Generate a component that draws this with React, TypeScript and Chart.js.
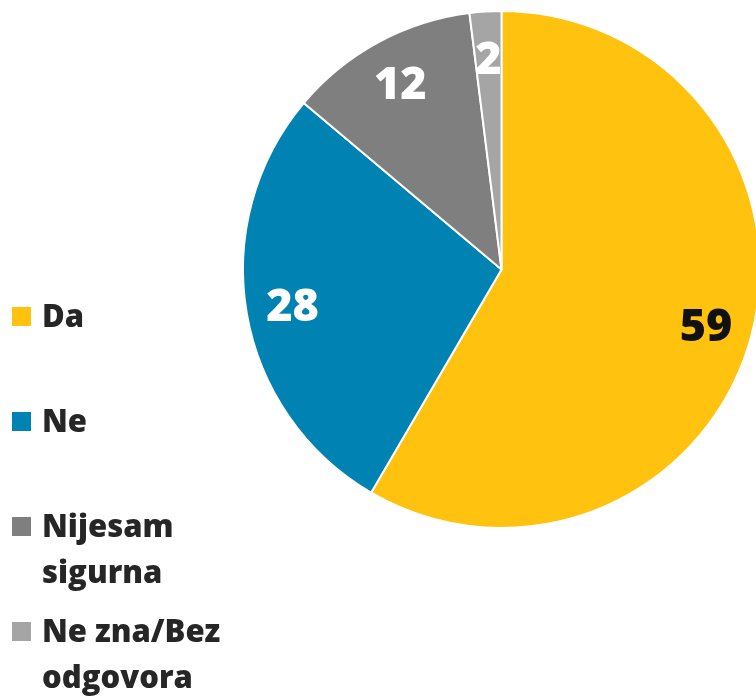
import React, { useEffect, useRef } from "react";
import { Chart, registerables } from "chart.js";

Chart.register(...registerables);

const categories = ["Da", "Ne", "Nijesam sigurna", "Ne zna/Bez odgovora"];
const values = [59, 28, 12, 2];
const colors = ["#FFC20E", "#0083B3", "#7F7F7F", "#A5A5A5"];
const labelColors = ["#111111", "#FFFFFF", "#FFFFFF", "#FFFFFF"];

const FONT = "'Open Sans', 'Noto Sans', sans-serif";

const sliceLabels = {
  id: "sliceLabels",
  afterDatasetsDraw(chart: any) {
    const { ctx } = chart;
    const meta = chart.getDatasetMeta(0);
    ctx.save();
    ctx.font = `800 45px ${FONT}`;
    ctx.textAlign = "center";
    ctx.textBaseline = "middle";
    meta.data.forEach((arc: any, i: number) => {
      const p = arc.getProps(["x", "y", "startAngle", "endAngle", "outerRadius"], true);
      const mid = (p.startAngle + p.endAngle) / 2;
      const r = p.outerRadius * 0.82;
      const x = p.x + Math.cos(mid) * r;
      const y = p.y + Math.sin(mid) * r;
      ctx.fillStyle = labelColors[i];
      ctx.fillText(String(values[i]), x, y + 3);
    });
    ctx.restore();
  },
};

export default function App() {
  const ref = useRef<HTMLCanvasElement>(null);
  useEffect(() => {
    if (!ref.current) return;
    const chart = new Chart(ref.current, {
      type: "pie",
      data: {
        labels: categories,
        datasets: [
          {
            data: values,
            backgroundColor: colors,
            borderColor: "#FFFFFF",
            borderWidth: 2,
          },
        ],
      },
      options: {
        responsive: false,
        animation: false,
        layout: { padding: { left: 242, top: 10, right: 39, bottom: 169 } },
        plugins: {
          legend: { display: false },
          tooltip: { enabled: false },
        },
      },
      plugins: [sliceLabels],
    });
    return () => chart.destroy();
  }, []);

  return (
    <div
      style={{
        position: "fixed",
        left: 0,
        top: 0,
        width: 756,
        height: 698,
        overflow: "hidden",
        background: "#FFFFFF",
      }}
    >
      <canvas ref={ref} width={800} height={698} style={{ position: "absolute", left: 0, top: 0 }} />
      {categories.map((c, i) => (
        <div
          key={c}
          style={{
            position: "absolute",
            left: 12,
            top: 292 + i * 105,
            display: "flex",
            alignItems: "flex-start",
          }}
        >
          <div
            style={{
              width: 19,
              height: 19,
              marginTop: 15,
              background: colors[i],
              flex: "none",
            }}
          />
          <div
            style={{
              marginLeft: 11,
              width: 205,
              font: `800 31px/46px ${FONT}`,
              color: "#262626",
            }}
          >
            {c}
          </div>
        </div>
      ))}
    </div>
  );
}
